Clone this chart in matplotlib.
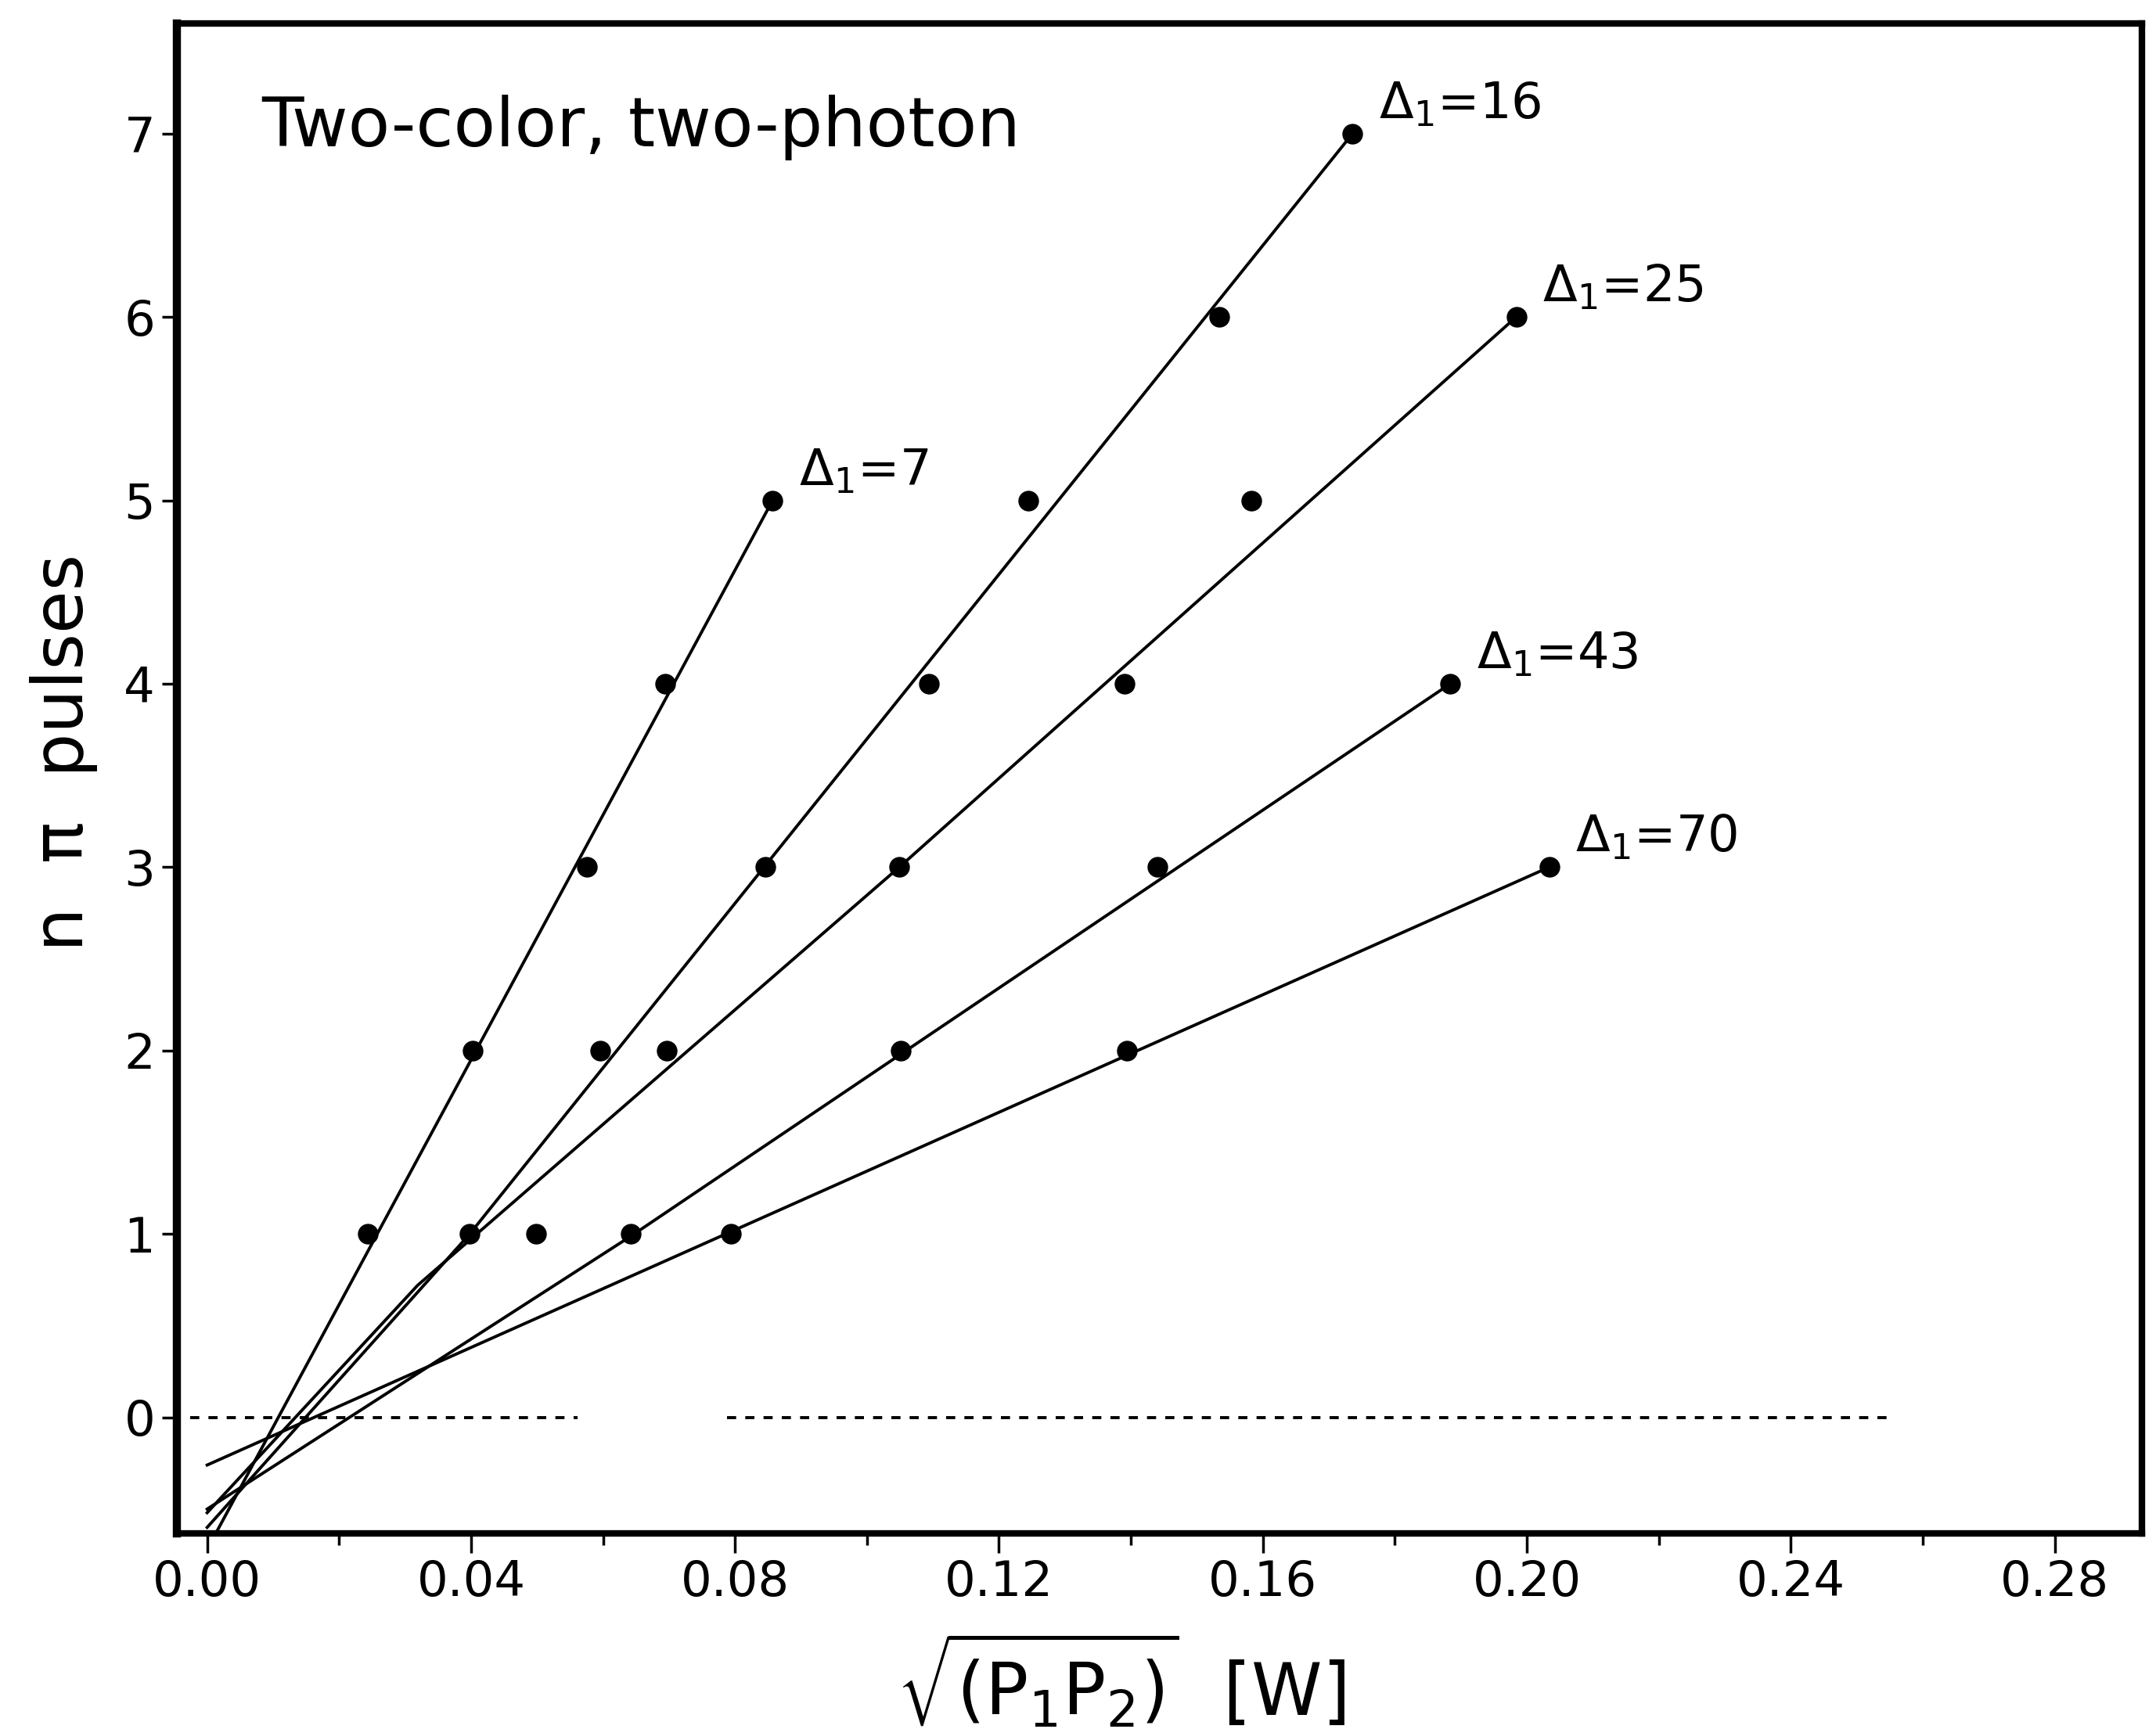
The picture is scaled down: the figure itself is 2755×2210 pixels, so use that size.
import numpy as np
import matplotlib
matplotlib.use("Agg")
import matplotlib.pyplot as plt
from matplotlib.ticker import MultipleLocator, FormatStrFormatter

# measured points (n pi pulses vs sqrt(P1 P2))
n7_x = [0.0244, 0.0402, 0.0575, 0.0694, 0.0857]
n7_y = [1, 2, 3, 4, 5]
n16_x = [0.0398, 0.0596, 0.0846, 0.1094, 0.1245, 0.1534, 0.1736]
n16_y = [1, 2, 3, 4, 5, 6, 7]
n25_x = [0.0498, 0.0696, 0.1049, 0.1390, 0.1582, 0.1984]
n25_y = [1, 2, 3, 4, 5, 6]
n43_x = [0.0642, 0.1051, 0.1440, 0.1884]
n43_y = [1, 2, 3, 4]
n70_x = [0.0794, 0.1394, 0.2034]
n70_y = [1, 2, 3]

# fitted curves
fit7_x = [0.0015, 0.0857]
fit7_y = [-0.62, 5.0]
fit16_x = [0.0, 0.0398, 0.1736]
fit16_y = [-0.60, 1.0, 7.0]
fit25_x = [0.0, 0.0319, 0.1049, 0.1984]
fit25_y = [-0.52, 0.72, 3.0, 6.0]
fit43_x = [0.0, 0.0643, 0.1884]
fit43_y = [-0.50, 0.99, 4.0]
fit70_x = [0.0, 0.2034]
fit70_y = [-0.26, 3.0]

labels = [r'$\Delta_1$=7', r'$\Delta_1$=16', r'$\Delta_1$=25', r'$\Delta_1$=43', r'$\Delta_1$=70']

plt.rcParams['font.family'] = ['DejaVu Sans']
plt.rcParams['mathtext.fontset'] = 'dejavusans'

fig = plt.figure(figsize=(27.55, 22.1), dpi=100)
ax = fig.add_axes([0.0820, 0.1131, 0.9114, 0.8733])

series = [(n7_x, n7_y, fit7_x, fit7_y),
          (n16_x, n16_y, fit16_x, fit16_y),
          (n25_x, n25_y, fit25_x, fit25_y),
          (n43_x, n43_y, fit43_x, fit43_y),
          (n70_x, n70_y, fit70_x, fit70_y)]

for (px, py, fx, fy), lab in zip(series, labels):
    ax.plot(fx, fy, color='black', lw=2.8)
    ax.plot(px, py, 'o', color='black', ms=18)
    ax.annotate(lab, xy=(px[-1], py[-1]), xytext=(24, 14),
                textcoords='offset points', fontsize=46, va='baseline')

# zero line, broken in two pieces
ax.plot([-0.0026, 0.0561], [0, 0], color='black', lw=2.8, ls=(0, (3, 3)))
ax.plot([0.0788, 0.2548], [0, 0], color='black', lw=2.8, ls=(0, (3, 3)))

ax.text(0.0082, 6.93, 'Two-color, two-photon', fontsize=63, va='baseline')

ax.set_xlim(-0.0046, 0.2932)
ax.set_ylim(-0.633, 7.60)

ax.xaxis.set_major_locator(MultipleLocator(0.04))
ax.xaxis.set_minor_locator(MultipleLocator(0.02))
ax.xaxis.set_major_formatter(FormatStrFormatter('%.2f'))
ax.yaxis.set_major_locator(MultipleLocator(1))

ax.tick_params(axis='x', which='major', length=18, width=2.5, labelsize=45, pad=6)
ax.tick_params(axis='x', which='minor', length=11, width=2.5)
ax.tick_params(axis='y', which='major', length=14, width=2.5, labelsize=45, pad=6)

for side in ['left', 'bottom', 'top', 'right']:
    ax.spines[side].set_linewidth(6)
ax.spines['left'].set_linewidth(7.5)

ax.set_ylabel('n  π  pulses', fontsize=64)
ax.yaxis.set_label_coords(-0.040, 0.517)
fig.text(0.52, 0.008, r'$\sqrt{(\mathrm{P}_1\mathrm{P}_2)}$  [W]', fontsize=66,
         ha='center', va='baseline')

fig.savefig('out.png', dpi=100)
